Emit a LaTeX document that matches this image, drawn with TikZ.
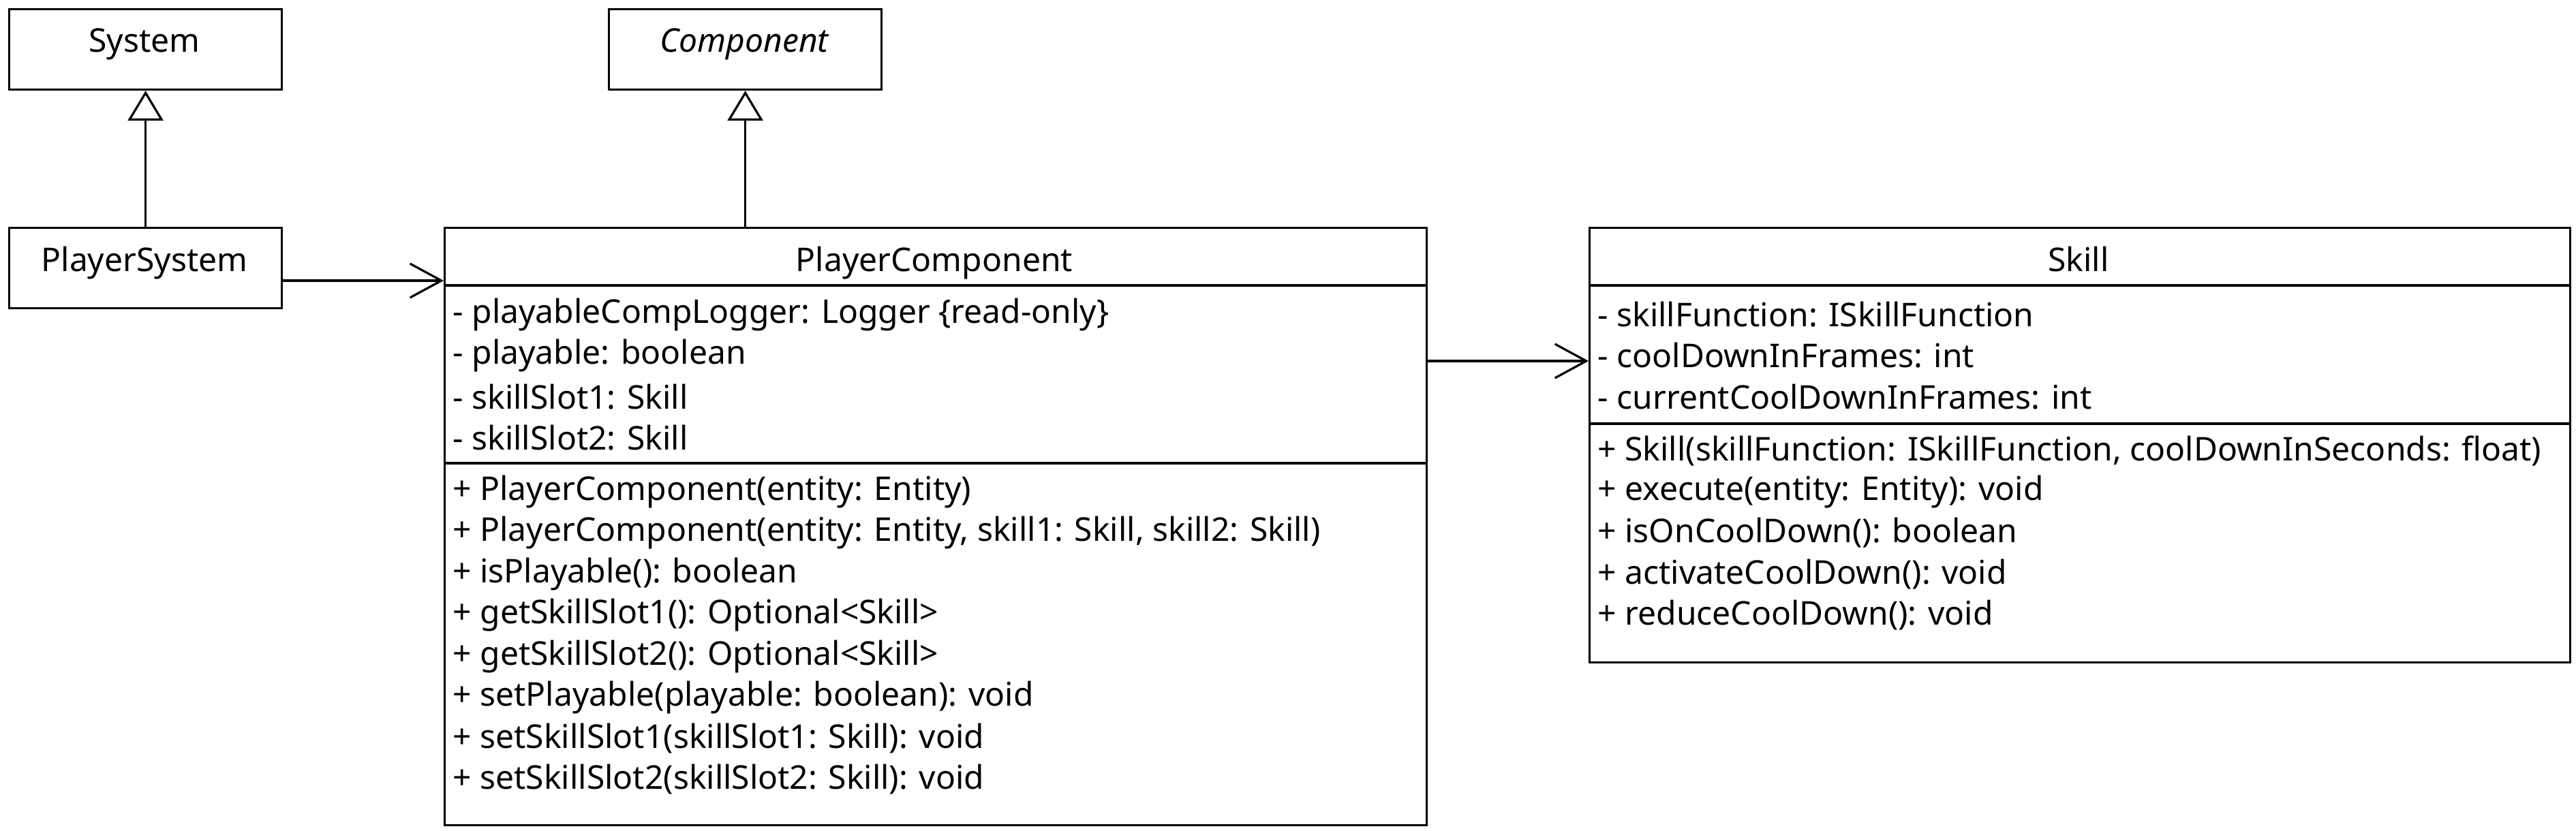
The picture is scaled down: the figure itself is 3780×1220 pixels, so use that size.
\documentclass[tikz,border=0pt]{standalone}
\usepackage{fontspec}
\setmainfont{Noto Sans}
\usetikzlibrary{arrows.meta}
\begin{document}
\begin{tikzpicture}[x=0.25pt,y=-0.25pt,line width=0.8pt,
  box/.style={draw,line width=0.8pt,inner sep=0,anchor=north west},
  ttl/.style={inner sep=0,anchor=base,font=\fontsize{12}{14}\selectfont},
  mem/.style={inner sep=0,anchor=west,font=\fontsize{12}{14}\selectfont},
  gen/.style={-{Triangle[open,length=11pt,width=13pt,line width=0.8pt]}},
  assoc/.style={-{Straight Barb[length=11.5pt,width=12.5pt,line width=0.8pt]}}]
\useasboundingbox (0,0) rectangle (3780,1220);
% boxes
\node[box,minimum width=100pt,minimum height=29.5pt] (system) at (12,12) {};
\node[box,minimum width=100pt,minimum height=29.5pt] (component) at (892,12) {};
\node[box,minimum width=100pt,minimum height=29.5pt] (playersystem) at (12,333) {};
\node[box,minimum width=360.25pt,minimum height=219.25pt] (pc) at (651,333) {};
\node[box,minimum width=359.75pt,minimum height=159.5pt] (skill) at (2331,333) {};
% titles
\node[ttl] (tsystem) at (212,77) {System};
\node[ttl] (tcomponent) at (1092,77) {\itshape Component};
\node[ttl] (tplayersystem) at (212,398) {PlayerSystem};
\node[ttl] (tpc) at (1371,398) {PlayerComponent};
\node[ttl] (tskill) at (3050,398) {Skill};
% compartment lines
\draw (pc.west |- 0,419) -- (pc.east |- 0,419);
\draw (pc.west |- 0,680) -- (pc.east |- 0,680);
\draw (skill.west |- 0,419) -- (skill.east |- 0,419);
\draw (skill.west |- 0,622) -- (skill.east |- 0,622);
% PlayerComponent members
\node[mem] (pa1) at (663,462) {- playableCompLogger: Logger \{read-only\}};
\node[mem] (pa2) at (663,522) {- playable: boolean};
\node[mem] (pa3) at (663,583) {- skillSlot1: Skill};
\node[mem] (pa4) at (663,643) {- skillSlot2: Skill};
\node[mem] (pm1) at (663,722) {+ PlayerComponent(entity: Entity)};
\node[mem] (pm2) at (663,782) {+ PlayerComponent(entity: Entity, skill1: Skill, skill2: Skill)};
\node[mem] (pm3) at (663,843) {+ isPlayable(): boolean};
\node[mem] (pm4) at (663,903) {+ getSkillSlot1(): Optional<Skill>};
\node[mem] (pm5) at (663,964) {+ getSkillSlot2(): Optional<Skill>};
\node[mem] (pm6) at (663,1024) {+ setPlayable(playable: boolean): void};
\node[mem] (pm7) at (663,1084) {+ setSkillSlot1(skillSlot1: Skill): void};
\node[mem] (pm8) at (663,1144) {+ setSkillSlot2(skillSlot2: Skill): void};
% Skill members
\node[mem] (sa1) at (2343,462) {- skillFunction: ISkillFunction};
\node[mem] (sa2) at (2343,522) {- coolDownInFrames: int};
\node[mem] (sa3) at (2343,583) {- currentCoolDownInFrames: int};
\node[mem] (sm1) at (2343,662) {+ Skill(skillFunction: ISkillFunction, coolDownInSeconds: float)};
\node[mem] (sm2) at (2343,722) {+ execute(entity: Entity): void};
\node[mem] (sm3) at (2343,782) {+ isOnCoolDown(): boolean};
\node[mem] (sm4) at (2343,843) {+ activateCoolDown(): void};
\node[mem] (sm5) at (2343,903) {+ reduceCoolDown(): void};
% connectors
\draw[gen] (playersystem.north) -- (system.south);
\draw[gen] (pc.north -| component.south) -- (component.south);
\coordinate (a1) at (0,412);
\coordinate (a2) at (0,530);
\draw[assoc] (playersystem.east |- a1) -- (pc.west |- a1);
\draw[assoc] (pc.east |- a2) -- (skill.west |- a2);
\end{tikzpicture}
\end{document}
